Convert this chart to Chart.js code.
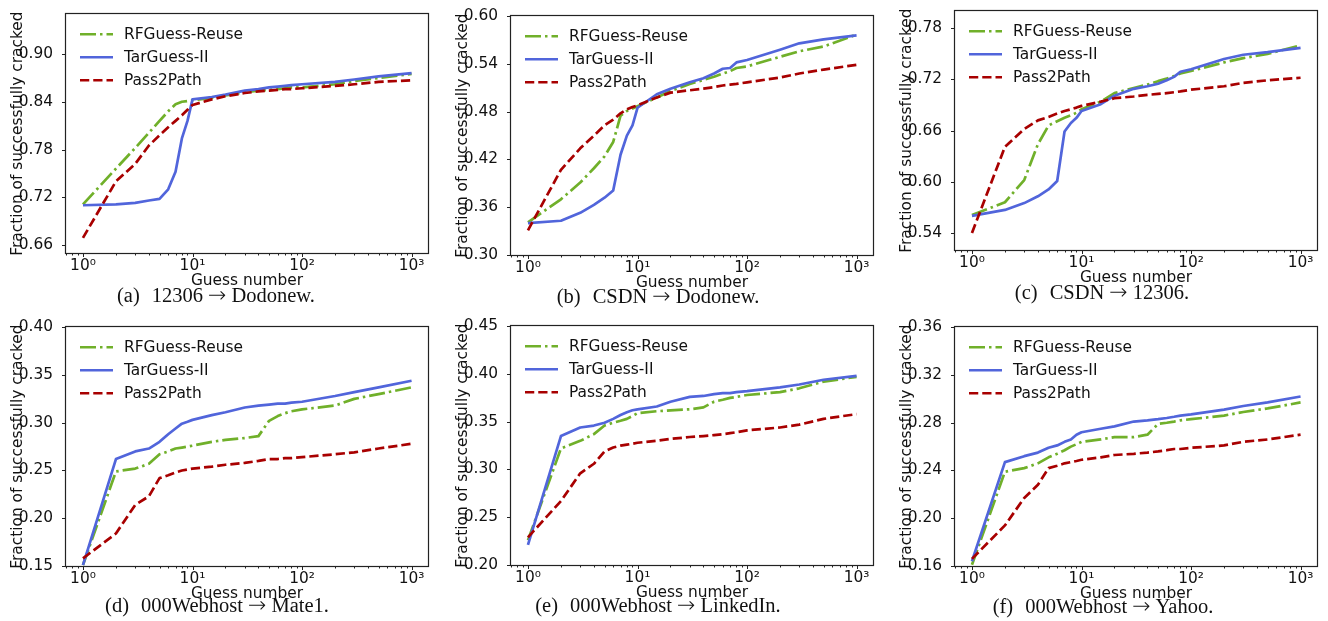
<!DOCTYPE html>
<html><head><meta charset="utf-8">
<script src="https://cdn.jsdelivr.net/npm/chart.js@4"></script>
<style>
body{margin:0;background:#fff;width:1328px;height:621px;position:relative;overflow:hidden}
canvas{position:absolute}
.cap{position:absolute;width:400px;text-align:center;font-family:"Liberation Serif","Times New Roman",serif;font-size:20.5px;line-height:20px;color:#111;white-space:nowrap}
.cap .g{display:inline-block;width:12px}
.cap .ar{font-family:"DejaVu Sans";font-weight:200;font-size:22px;margin:0 5px}
</style></head><body>
<canvas id="ca" width="438" height="293" style="left:0px;top:0px"></canvas>
<canvas id="cb" width="438" height="293" style="left:445px;top:2px"></canvas>
<canvas id="cc" width="438" height="293" style="left:889px;top:-3px"></canvas>
<canvas id="cd" width="438" height="293" style="left:0px;top:313px"></canvas>
<canvas id="ce" width="438" height="293" style="left:445px;top:312px"></canvas>
<canvas id="cf" width="438" height="293" style="left:889px;top:313px"></canvas>
<div class="cap" style="left:16px;top:285px">(a)<span class="g"></span>12306<span class="ar">→</span>Dodonew.</div>
<div class="cap" style="left:458px;top:286px">(b)<span class="g"></span>CSDN<span class="ar">→</span>Dodonew.</div>
<div class="cap" style="left:902px;top:282px">(c)<span class="g"></span>CSDN<span class="ar">→</span>12306.</div>
<div class="cap" style="left:17px;top:595px">(d)<span class="g"></span>000Webhost<span class="ar">→</span>Mate1.</div>
<div class="cap" style="left:458px;top:595px">(e)<span class="g"></span>000Webhost<span class="ar">→</span>LinkedIn.</div>
<div class="cap" style="left:903px;top:596px">(f)<span class="g"></span>000Webhost<span class="ar">→</span>Yahoo.</div>
<script>
// ---------- data ----------
const guesses = [1,2,3,4,5,6,7,8,9,10,15,20,30,40,50,60,70,80,100,200,300,500,1000];
const seriesNames = ['RFGuess-Reuse','TarGuess-II','Pass2Path'];
const xTickValues = [1,10,100,1000];
const xTickLabels = ['10\u2070','10\u00B9','10\u00B2','10\u00B3'];

// (a) 12306 -> Dodonew
const aRF  = [.711,.756,.782,.801,.816,.828,.837,.840,.841,.842,.845,.848,.852,.854,.855,.856,.857,.858,.858,.862,.866,.870,.875];
const aTG  = [.710,.711,.713,.716,.718,.730,.752,.794,.816,.843,.846,.849,.854,.856,.858,.859,.860,.861,.862,.865,.868,.872,.876];
const aP2P = [.669,.740,.762,.785,.798,.808,.816,.823,.830,.836,.843,.847,.851,.853,.854,.855,.856,.856,.857,.860,.862,.865,.867];
const aYTicks = [0.66,0.72,0.78,0.84,0.90];
const aYRange = [0.65,0.95];

// (b) CSDN -> Dodonew
const bRF  = [.341,.370,.391,.409,.424,.442,.475,.481,.484,.487,.498,.506,.515,.520,.524,.528,.531,.535,.537,.549,.556,.562,.577];
const bTG  = [.340,.343,.353,.363,.372,.381,.426,.450,.463,.485,.502,.509,.517,.522,.528,.534,.535,.542,.545,.558,.566,.571,.576];
const bP2P = [.331,.407,.434,.450,.463,.470,.478,.483,.486,.488,.498,.504,.507,.509,.511,.513,.514,.515,.517,.523,.528,.533,.539];
const bYTicks = [0.30,0.36,0.42,0.48,0.54,0.60];
const bYRange = [0.30,0.60];

// (c) CSDN -> 12306
const cRF  = [.561,.576,.602,.644,.666,.671,.675,.678,.681,.685,.694,.704,.710,.714,.718,.721,.724,.727,.730,.740,.745,.750,.760];
const cTG  = [.560,.567,.575,.583,.591,.601,.659,.669,.675,.683,.691,.701,.709,.712,.715,.719,.723,.729,.732,.744,.749,.752,.757];
const cP2P = [.540,.641,.662,.672,.676,.680,.683,.685,.687,.689,.694,.698,.700,.702,.703,.704,.705,.706,.708,.712,.716,.719,.722];
const cYTicks = [0.54,0.60,0.66,0.72,0.78];
const cYRange = [0.52,0.80];

// (d) 000Webhost -> Mate1
const dRF  = [.151,.249,.252,.257,.267,.270,.273,.274,.275,.276,.280,.282,.284,.286,.302,.307,.310,.312,.314,.318,.325,.330,.337];
const dTG  = [.151,.262,.270,.273,.280,.288,.294,.299,.301,.303,.308,.311,.316,.318,.319,.320,.320,.321,.322,.328,.332,.337,.344];
const dP2P = [.158,.184,.214,.223,.242,.245,.248,.250,.251,.252,.254,.256,.258,.260,.262,.262,.263,.263,.264,.267,.269,.273,.278];
const dYTicks = [0.15,0.20,0.25,0.30,0.35,0.40];
const dYRange = [0.15,0.40];

// (e) 000Webhost -> LinkedIn
const eRF  = [.226,.322,.330,.337,.346,.349,.351,.353,.356,.359,.361,.362,.363,.365,.371,.373,.375,.376,.378,.381,.385,.392,.397];
const eTG  = [.221,.335,.344,.346,.349,.353,.357,.360,.362,.363,.366,.371,.376,.377,.379,.380,.380,.381,.382,.386,.389,.394,.398];
const eP2P = [.229,.267,.296,.306,.319,.323,.325,.326,.327,.328,.330,.332,.334,.335,.336,.337,.338,.339,.341,.344,.347,.353,.358];
const eYTicks = [0.20,0.25,0.30,0.35,0.40,0.45];
const eYRange = [0.20,0.45];

// (f) 000Webhost -> Yahoo
const fRF  = [.161,.239,.242,.246,.251,.254,.257,.260,.262,.264,.266,.268,.268,.270,.279,.280,.281,.282,.283,.286,.289,.292,.297];
const fTG  = [.164,.247,.252,.255,.259,.261,.264,.266,.270,.272,.275,.277,.281,.282,.283,.284,.285,.286,.287,.291,.294,.297,.302];
const fP2P = [.166,.194,.217,.228,.242,.244,.246,.247,.248,.249,.251,.253,.254,.255,.256,.257,.258,.258,.259,.261,.264,.266,.270];
const fYTicks = [0.16,0.20,0.24,0.28,0.32,0.36];
const fYRange = [0.16,0.36];

// ---------- styles ----------
const seriesStyles = [
  {color:'#70b02a', dash:[16,4,2.5,4], order:3},
  {color:'#5165db', dash:[], order:2},
  {color:'#a80000', dash:[9.25,4], order:1}
];
const FONT = 'DejaVu Sans';
const FSIZE = 15.4;
Chart.defaults.font.family = FONT;
Chart.defaults.font.size = FSIZE;
Chart.defaults.color = '#111';

const frameLegend = {
  id: 'frameLegend',
  afterDatasetsDraw(chart) {
    const {ctx, chartArea: a, scales: {x, y}} = chart;
    ctx.save();
    ctx.strokeStyle = '#222';
    ctx.lineWidth = 1.2;
    ctx.setLineDash([]);
    ctx.strokeRect(Math.round(a.left) - 0.5, Math.round(a.top) - 0.5, Math.round(a.width) + 1, Math.round(a.height) + 1);
    ctx.lineWidth = 1;
    ctx.beginPath();
    x.ticks.forEach(t => {
      const v = t.value;
      const e = Math.floor(Math.log10(v) + 1e-9);
      const s = v / Math.pow(10, e);
      if (Math.abs(s - Math.round(s)) > 1e-6) return;
      const px = Math.round(x.getPixelForValue(v)) + 0.5;
      if (px < a.left - 0.5 || px > a.right + 0.5) return;
      const len = Math.round(s) === 1 ? 4 : 2.5;
      ctx.moveTo(px, a.bottom);
      ctx.lineTo(px, a.bottom + len);
    });
    y.ticks.forEach(t => {
      const py = Math.round(y.getPixelForValue(t.value)) + 0.5;
      ctx.moveTo(a.left, py);
      ctx.lineTo(a.left - 4, py);
    });
    ctx.stroke();
    ctx.font = FSIZE + 'px "' + FONT + '"';
    ctx.textBaseline = 'middle';
    ctx.textAlign = 'left';
    chart.data.datasets.forEach((ds, i) => {
      const ly = a.top + 20 + i * 23;
      ctx.strokeStyle = ds.borderColor;
      ctx.lineWidth = ds.borderWidth;
      ctx.setLineDash(ds.borderDash || []);
      ctx.beginPath();
      ctx.moveTo(a.left + 14, ly);
      ctx.lineTo(a.left + 47, ly);
      ctx.stroke();
      ctx.fillStyle = '#111';
      ctx.fillText(ds.label, a.left + 58, ly + 1);
    });
    ctx.restore();
  }
};

function makeChart(id, series, yTicks, yRange) {
  const datasets = series.map((vals, i) => ({
    label: seriesNames[i],
    data: guesses.map((g, k) => ({x: g, y: vals[k]})),
    borderColor: seriesStyles[i].color,
    borderWidth: 2.7,
    borderDash: seriesStyles[i].dash,
    borderJoinStyle: 'round',
    pointRadius: 0,
    tension: 0,
    fill: false,
    order: seriesStyles[i].order
  }));
  return new Chart(document.getElementById(id), {
    type: 'line',
    data: {datasets},
    plugins: [frameLegend],
    options: {
      responsive: false,
      animation: false,
      devicePixelRatio: 1,
      layout: {padding: {top: 10, right: 10, left: 0, bottom: 0}},
      plugins: {legend: {display: false}, tooltip: {enabled: false}},
      scales: {
        x: {
          type: 'logarithmic',
          min: Math.pow(10, -0.15),
          max: Math.pow(10, 3.15),
          grid: {display: false},
          border: {display: false},
          afterFit: s => { s.height = 40; },
          ticks: {
            autoSkip: false, maxRotation: 0, padding: -4,
            callback: v => {
              const i = xTickValues.findIndex(t => Math.abs(t - v) < 1e-6 * t);
              return i >= 0 ? xTickLabels[i] : '';
            }
          },
          title: {display: true, text: 'Guess number', padding: {top: 0, bottom: 3}}
        },
        y: {
          type: 'linear',
          min: yRange[0],
          max: yRange[1],
          grid: {display: false},
          border: {display: false},
          afterFit: s => { s.width = 66; },
          afterBuildTicks: s => { s.ticks = yTicks.map(v => ({value: v})); },
          ticks: {padding: 5, callback: v => Number(v).toFixed(2)},
          title: {display: true, text: 'Fraction of successfully cracked', padding: {top: 9, bottom: 0}}
        }
      }
    }
  });
}

makeChart('ca', [aRF, aTG, aP2P], aYTicks, aYRange);
makeChart('cb', [bRF, bTG, bP2P], bYTicks, bYRange);
makeChart('cc', [cRF, cTG, cP2P], cYTicks, cYRange);
makeChart('cd', [dRF, dTG, dP2P], dYTicks, dYRange);
makeChart('ce', [eRF, eTG, eP2P], eYTicks, eYRange);
makeChart('cf', [fRF, fTG, fP2P], fYTicks, fYRange);
</script>
</body></html>
